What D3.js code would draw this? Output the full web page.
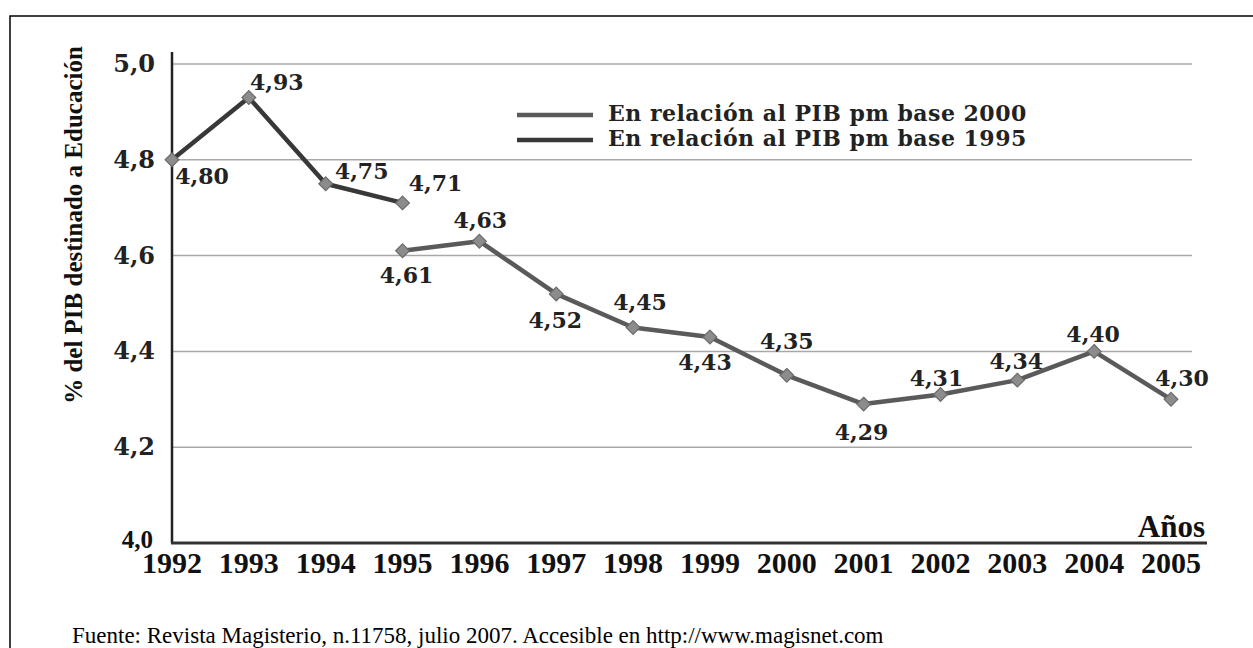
<!DOCTYPE html>
<html>
<head>
<meta charset="utf-8">
<script src="https://cdn.jsdelivr.net/npm/d3@7"></script>
<style>
  body { margin: 0; background: #fff; }
  svg { display: block; }
</style>
</head>
<body>
<svg id="chart"></svg>
<script>
// datos
const years1995 = [1992, 1993, 1994, 1995];
const base1995 = [4.80, 4.93, 4.75, 4.71];
const years2000 = [1995, 1996, 1997, 1998, 1999, 2000, 2001, 2002, 2003, 2004, 2005];
const base2000 = [4.61, 4.63, 4.52, 4.45, 4.43, 4.35, 4.29, 4.31, 4.34, 4.40, 4.30];
const allYears = d3.range(1992, 2006);
const yTicks = [4.2, 4.4, 4.6, 4.8, 5.0];
const seriesNames = ["En relación al PIB pm base 2000", "En relación al PIB pm base 1995"];

// placement of value labels (dx, dy from the marker)
const lab1995 = [[30, 24], [28, -8], [36, -5], [33, -12]];
const lab2000 = [[4, 32], [1, -13], [-1, 34], [7, -17], [-5, 33], [0, -26], [-2, 36], [-4, -9], [-1, -11], [-1, -9], [11, -13]];

const W = 1253, H = 648;
const svg = d3.select("#chart").attr("width", W).attr("height", H);

const x = d3.scaleLinear().domain([1992, 2005]).range([172, 1171]);
const y = d3.scaleLinear().domain([4.0, 5.0]).range([543, 64]);

const fmt = v => d3.format(".2f")(v).replace(".", ",");
const slab = "'DejaVu Serif', serif";
const times = "'Liberation Serif', 'Times New Roman', serif";

// outer frame
svg.append("rect")
  .attr("x", 10).attr("y", 16).attr("width", 1300).attr("height", 700)
  .attr("fill", "none").attr("stroke", "#000").attr("stroke-width", 1.5);

// gridlines
svg.append("g")
  .selectAll("line")
  .data(yTicks)
  .join("line")
  .attr("x1", 172).attr("x2", 1192)
  .attr("y1", d => y(d)).attr("y2", d => y(d))
  .attr("stroke", "#a8a8a8").attr("stroke-width", 1.5);

// y tick labels
svg.append("g")
  .selectAll("text")
  .data(yTicks)
  .join("text")
  .attr("x", 155).attr("y", d => y(d) + 8)
  .attr("text-anchor", "end")
  .style("font-family", slab).style("font-weight", "bold").style("font-size", "24px")
  .attr("fill", "#222")
  .text(d => d3.format(".1f")(d).replace(".", ","));

svg.append("text")
  .attr("x", 153).attr("y", 548)
  .attr("text-anchor", "end")
  .style("font-family", times).style("font-weight", "bold").style("font-size", "25px")
  .attr("fill", "#111")
  .text("4,0");

// axes lines
svg.append("line")
  .attr("x1", 172).attr("x2", 172).attr("y1", 52).attr("y2", 543)
  .attr("stroke", "#222").attr("stroke-width", 2.5);
svg.append("line")
  .attr("x1", 171).attr("x2", 1207).attr("y1", 543).attr("y2", 543)
  .attr("stroke", "#333").attr("stroke-width", 3);

// year labels
svg.append("g")
  .selectAll("text")
  .data(allYears)
  .join("text")
  .attr("x", d => x(d)).attr("y", 573)
  .attr("text-anchor", "middle")
  .style("font-family", times).style("font-weight", "bold").style("font-size", "30px")
  .attr("fill", "#111")
  .text(d => d);

svg.append("text")
  .attr("x", 1205).attr("y", 537)
  .attr("text-anchor", "end")
  .style("font-family", times).style("font-weight", "bold").style("font-size", "31px")
  .attr("fill", "#111")
  .text("Años");

// y axis title
svg.append("text")
  .attr("transform", "translate(82,225) rotate(-90)")
  .attr("text-anchor", "middle")
  .style("font-family", times).style("font-weight", "bold").style("font-size", "25px")
  .attr("fill", "#111")
  .text("% del PIB destinado a Educación");

// series
const line = d3.line().x(d => x(d[0])).y(d => y(d[1]));
const s1995 = years1995.map((yr, i) => [yr, base1995[i]]);
const s2000 = years2000.map((yr, i) => [yr, base2000[i]]);

svg.append("path").datum(s1995).attr("d", line)
  .attr("fill", "none").attr("stroke", "#383838").attr("stroke-width", 4.5)
  .attr("stroke-linejoin", "round");
svg.append("path").datum(s2000).attr("d", line)
  .attr("fill", "none").attr("stroke", "#5a5a5a").attr("stroke-width", 4.5)
  .attr("stroke-linejoin", "round");

const diamond = d3.symbol().type(d3.symbolDiamond2).size(120);
[s1995, s2000].forEach(s => {
  svg.append("g")
    .selectAll("path")
    .data(s)
    .join("path")
    .attr("d", diamond)
    .attr("transform", d => `translate(${x(d[0])},${y(d[1])})`)
    .attr("fill", "#8c8c8c").attr("stroke", "#6a6a6a").attr("stroke-width", 1.2);
});

// value labels
function addLabels(s, offs) {
  svg.append("g")
    .selectAll("text")
    .data(s)
    .join("text")
    .attr("x", (d, i) => x(d[0]) + offs[i][0])
    .attr("y", (d, i) => y(d[1]) + offs[i][1])
    .attr("text-anchor", "middle")
    .style("font-family", slab).style("font-weight", "bold").style("font-size", "22px")
    .attr("fill", "#222")
    .text(d => fmt(d[1]));
}
addLabels(s1995, lab1995);
addLabels(s2000, lab2000);

// legend
const legend = svg.append("g");
const legColors = ["#5a5a5a", "#383838"];
seriesNames.forEach((name, i) => {
  legend.append("line")
    .attr("x1", 517).attr("x2", 593)
    .attr("y1", 115 + i * 25).attr("y2", 115 + i * 25)
    .attr("stroke", legColors[i]).attr("stroke-width", 4.5);
  legend.append("text")
    .attr("x", 608).attr("y", 121 + i * 25)
    .style("font-family", slab).style("font-weight", "bold").style("font-size", "22px")
    .style("letter-spacing", "0.5px")
    .attr("fill", "#222")
    .text(name);
});

// source
svg.append("text")
  .attr("x", 72).attr("y", 643)
  .style("font-family", times).style("font-size", "23px")
  .attr("fill", "#000")
  .text("Fuente: Revista Magisterio, n.11758, julio 2007. Accesible en http://www.magisnet.com");
</script>
</body>
</html>
